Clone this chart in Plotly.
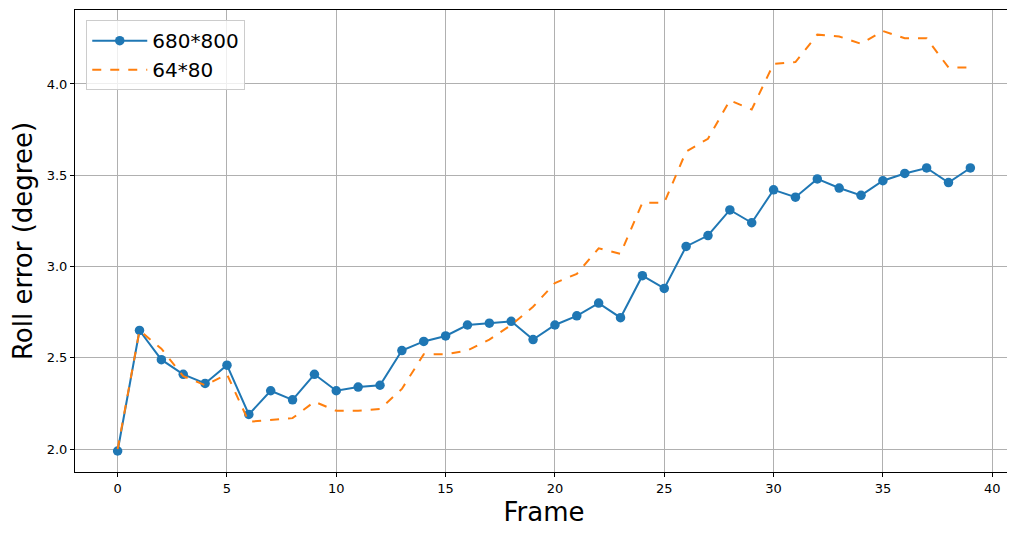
import plotly.graph_objects as go

frames = list(range(40))
hi_res = [1.99, 2.65, 2.49, 2.41, 2.36, 2.46, 2.19, 2.32, 2.27, 2.41,
          2.32, 2.34, 2.35, 2.54, 2.59, 2.62, 2.68, 2.69, 2.70, 2.60,
          2.68, 2.73, 2.80, 2.72, 2.95, 2.88, 3.11, 3.17, 3.31, 3.24,
          3.42, 3.38, 3.48, 3.43, 3.39, 3.47, 3.51, 3.54, 3.46, 3.54]
lo_res = [2.00, 2.65, 2.55, 2.40, 2.35, 2.41, 2.15, 2.16, 2.17, 2.26,
          2.21, 2.21, 2.22, 2.33, 2.52, 2.52, 2.54, 2.60, 2.68, 2.78,
          2.91, 2.96, 3.10, 3.07, 3.35, 3.35, 3.63, 3.70, 3.91, 3.86,
          4.11, 4.12, 4.27, 4.26, 4.22, 4.29, 4.25, 4.25, 4.09, 4.09]
names = ["680*800", "64*80"]

fig = go.Figure()
fig.add_trace(go.Scatter(x=frames, y=hi_res, name=names[0], mode="lines+markers",
                         line=dict(color="#1f77b4", width=2),
                         marker=dict(color="#1f77b4", size=9.5)))
fig.add_trace(go.Scatter(x=frames, y=lo_res, name=names[1], mode="lines",
                         line=dict(color="#ff7f0e", width=2, dash="dash")))

axis_common = dict(showgrid=True, gridcolor="#b0b0b0", gridwidth=1,
                   showline=True, linecolor="black", linewidth=1, mirror=True,
                   ticks="outside", ticklen=4, tickcolor="black",
                   tickfont=dict(size=13, color="black"), zeroline=False,
                   automargin=False)

fig.update_layout(
    width=1015, height=539,
    margin=dict(l=67, r=10, t=2, b=75),
    paper_bgcolor="white", plot_bgcolor="white",
    font=dict(family="DejaVu Sans", color="black"),
    xaxis=dict(range=[-1.95, 40.95], tickmode="array", tickvals=[0, 5, 10, 15, 20, 25, 30, 35, 40],
               title=dict(text="Frame", font=dict(size=26), standoff=8), **axis_common),
    yaxis=dict(range=[1.875, 4.405], tickmode="array", tickvals=[2.0, 2.5, 3.0, 3.5, 4.0],
               ticktext=["2.0", "2.5", "3.0", "3.5", "4.0"],
               title=dict(text="Roll error (degree)", font=dict(size=26), standoff=10), **axis_common),
    legend=dict(x=0.012, y=0.978, xanchor="left", yanchor="top",
                bgcolor="rgba(255,255,255,0.8)", bordercolor="#cccccc", borderwidth=1,
                font=dict(size=20), itemwidth=55, tracegroupgap=0),
    showlegend=True,
)

fig.write_html("out.html")
